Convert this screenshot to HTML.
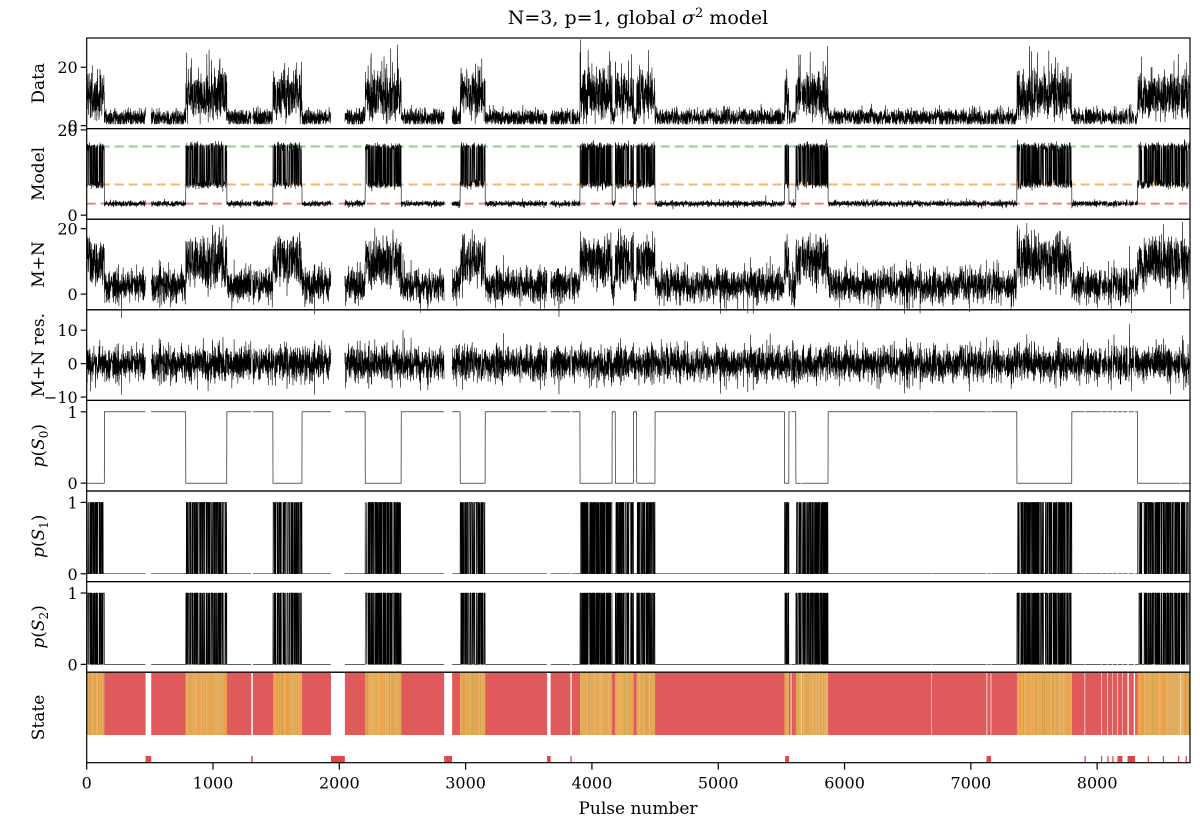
<!DOCTYPE html>
<html><head><meta charset="utf-8"><style>
html,body{margin:0;padding:0;background:#fff;}
svg{display:block;font-family:"DejaVu Serif","Liberation Serif",serif;}
</style></head><body>
<svg id="chart" width="1200" height="828" viewBox="0 0 1200 828" xmlns="http://www.w3.org/2000/svg">
<text x="638" y="24" font-size="19" text-anchor="middle">N=3, p=1, global <tspan font-style="italic">σ</tspan><tspan dy="-7" font-size="13">2</tspan><tspan dy="7"> model</tspan></text>
<g id="plots"></g>
<text x="638" y="814" font-size="17" text-anchor="middle">Pulse number</text>
</svg>
<script>
// ---- data (pulse ranges) ----
const brightSegments = [[0,140],[785,1110],[1475,1705],[2205,2490],[2957,3155],[3906,4160],[4185,4330],[4355,4500],[5525,5560],[5615,5870],[7365,7800],[8320,8735]];
const gapSegments = [[466,511],[1303,1315],[1934,2044],[2830,2893],[3645,3673],[3830,3840],[5573,5580],[5655,5660],[6686,6690],[7124,7130],[7157,7162],[7900,7905],[8032,8037],[8080,8085],[8120,8124],[8160,8165],[8200,8204],[8240,8250],[8290,8300],[8657,8662]];
const missingMarks = [[466,511],[1303,1315],[1934,2044],[2830,2893],[3645,3673],[3830,3840],[5530,5560],[7124,7160],[7900,7910],[8030,8040],[8080,8090],[8120,8130],[8160,8200],[8240,8300],[8400,8410],[8520,8530],[8640,8650],[8700,8710]];
const stateLevels = [2.7, 7.2, 16.1];
const xTicks = [0,1000,2000,3000,4000,5000,6000,7000,8000];
const nPulses = 8735;

const X0=86.7, X1=1190, PT=38, PH=90.6;
function xs(v){return X0+(v/nPulses)*(X1-X0);}
const NS='http://www.w3.org/2000/svg';
const root=document.getElementById('plots');
function el(tag,attrs,parent){const e=document.createElementNS(NS,tag);for(const k in attrs)e.setAttribute(k,attrs[k]);(parent||root).appendChild(e);return e;}

// texture generator (seeded)
let seed=12345;
function rnd(){seed|=0;seed=seed+0x6D2B79F5|0;let t=Math.imul(seed^seed>>>15,1|seed);t=t+Math.imul(t^t>>>7,61|t)^t;return((t^t>>>14)>>>0)/4294967296;}
function gauss(){return Math.sqrt(-2*Math.log(rnd()+1e-9))*Math.cos(2*Math.PI*rnd());}
function inSeg(i,segs){for(const s of segs)if(i>=s[0]&&i<s[1])return true;return false;}

const state=[],gap=[];
let cur=1;
for(let i=0;i<nPulses;i++){
  gap.push(inSeg(i,gapSegments));
  if(inSeg(i,brightSegments)){ if(rnd()<0.35) cur=cur===1?2:1; state.push(cur);} else {state.push(0);}
}
const model=[],data=[],mn=[],res=[],p0=[],p1=[],p2=[];
for(let i=0;i<nPulses;i++){
  const s=state[i];
  const m=stateLevels[s]+(s===0?0.35*gauss():0.5*gauss());
  model.push(m);
  let d=m+(s===0?1.5:2.8)*gauss()+(s===2?-3:0);
  if(s!==0&&rnd()<0.06) d+=4+8*rnd();
  data.push(Math.max(0.5,d));
  const r=2.6*gauss();
  res.push(r);
  mn.push(m+r+(s===2?-3:0));
  p0.push(s===0?1:0); p1.push(s===1?1:0); p2.push(s===2?1:0);
}

const panels=[
 {name:'data',label:['Data'],dom:[-1,30],ticks:[0,20],series:data},
 {name:'model',label:['Model'],dom:[-0.95,20.3],ticks:[0,20],series:model,dashes:true},
 {name:'m-plus-n',label:['M+N'],dom:[-4.8,22.9],ticks:[0,20],series:mn},
 {name:'residuals',label:['M+N res.'],dom:[-11,16.1],ticks:[-10,0,10],series:res},
 {name:'p-s0',label:'p0',dom:[-0.11,1.16],ticks:[0,1],series:p0},
 {name:'p-s1',label:'p1',dom:[-0.11,1.16],ticks:[0,1],series:p1},
 {name:'p-s2',label:'p2',dom:[-0.11,1.16],ticks:[0,1],series:p2},
];

panels.forEach((p,k)=>{
  const pTop=PT+k*PH,pBot=pTop+PH;
  const ys=v=>pBot-(v-p.dom[0])/(p.dom[1]-p.dom[0])*PH;
  const g=el('g',{});
  
  
  if(p.dashes){
    const cols=['#f08080','#ffb266','#8fcf8f'];
    stateLevels.forEach((lv,j)=>{const ln=el('line',{x1:X0,x2:X1,y1:ys(lv),y2:ys(lv),stroke:cols[j],'stroke-width':2,'stroke-dasharray':'9,5'},g);
      
      });
  }
  let d='',pen=false;
  for(let i=0;i<nPulses;i++){
    if(gap[i]){pen=false;continue;}
    const x=xs(i).toFixed(2),y=ys(p.series[i]).toFixed(2);
    d+=(pen?'L':'M')+x+' '+y;pen=true;
  }
  const path=el('path',{d:d,fill:'none',stroke:'#000','stroke-width':0.6},g);
  
  
  el('rect',{x:X0,y:pTop,width:X1-X0,height:PH,fill:'none',stroke:'#000','stroke-width':1.2},g);
  p.ticks.forEach(t=>{
    const y=ys(t);
    el('line',{x1:X0-6,x2:X0,y1:y,y2:y,stroke:'#000','stroke-width':1.2},g);
    const tx=el('text',{x:X0-9,y:y+6,'font-size':16,'text-anchor':'end'},g);
    tx.textContent=t<0?'\u2212'+(-t):String(t);
    
    
  });
  const cy=(pTop+pBot)/2;
  const lab=el('text',{transform:`translate(44,${cy}) rotate(-90)`,'font-size':17,'text-anchor':'middle'},g);
  
  
  if(Array.isArray(p.label)){lab.textContent=p.label[0];}
  else{const n=p.label.slice(1);
    lab.innerHTML=`<tspan font-style="italic">p</tspan>(<tspan font-style="italic">S</tspan><tspan font-size="12" dy="4">${n}</tspan><tspan dy="-4">)</tspan>`;}
});

// State panel
const sTop=PT+7*PH,sBot=762.7;
const sg=el('g',{});


const bandTop=672,bandH=63;
let runStart=0;
for(let i=1;i<=nPulses;i++){
  const boundary=i===nPulses||state[i]!==state[i-1]||gap[i]!==gap[i-1];
  if(boundary){
    if(!gap[runStart]){
      const s=state[runStart];
      const col=s===0?'#e05a5b':(s===1?'#ee9c3e':'#d2a043');
      const r=el('rect',{x:xs(runStart),y:bandTop,width:Math.max(0.3,xs(i)-xs(runStart)),height:bandH,fill:col},sg);
      
      
    }
    runStart=i;
  }
}
missingMarks.forEach(m=>{
  const r=el('rect',{x:xs(m[0]),y:756,width:Math.max(1,xs(m[1])-xs(m[0])),height:6.5,fill:'#e04848'},sg);
  
  
});
el('rect',{x:X0,y:sTop,width:X1-X0,height:sBot-sTop,fill:'none',stroke:'#000','stroke-width':1.2},sg);
const sl=el('text',{transform:`translate(44,${(sTop+sBot)/2}) rotate(-90)`,'font-size':17,'text-anchor':'middle'},sg);
sl.textContent='State';


xTicks.forEach(t=>{
  const x=xs(t);
  el('line',{x1:x,x2:x,y1:sBot,y2:sBot+7,stroke:'#000','stroke-width':1.2},sg);
  const tx=el('text',{x:x,y:sBot+26,'font-size':16,'text-anchor':'middle'},sg);
  tx.textContent=String(t);
  
  
});
</script>
</body></html>
